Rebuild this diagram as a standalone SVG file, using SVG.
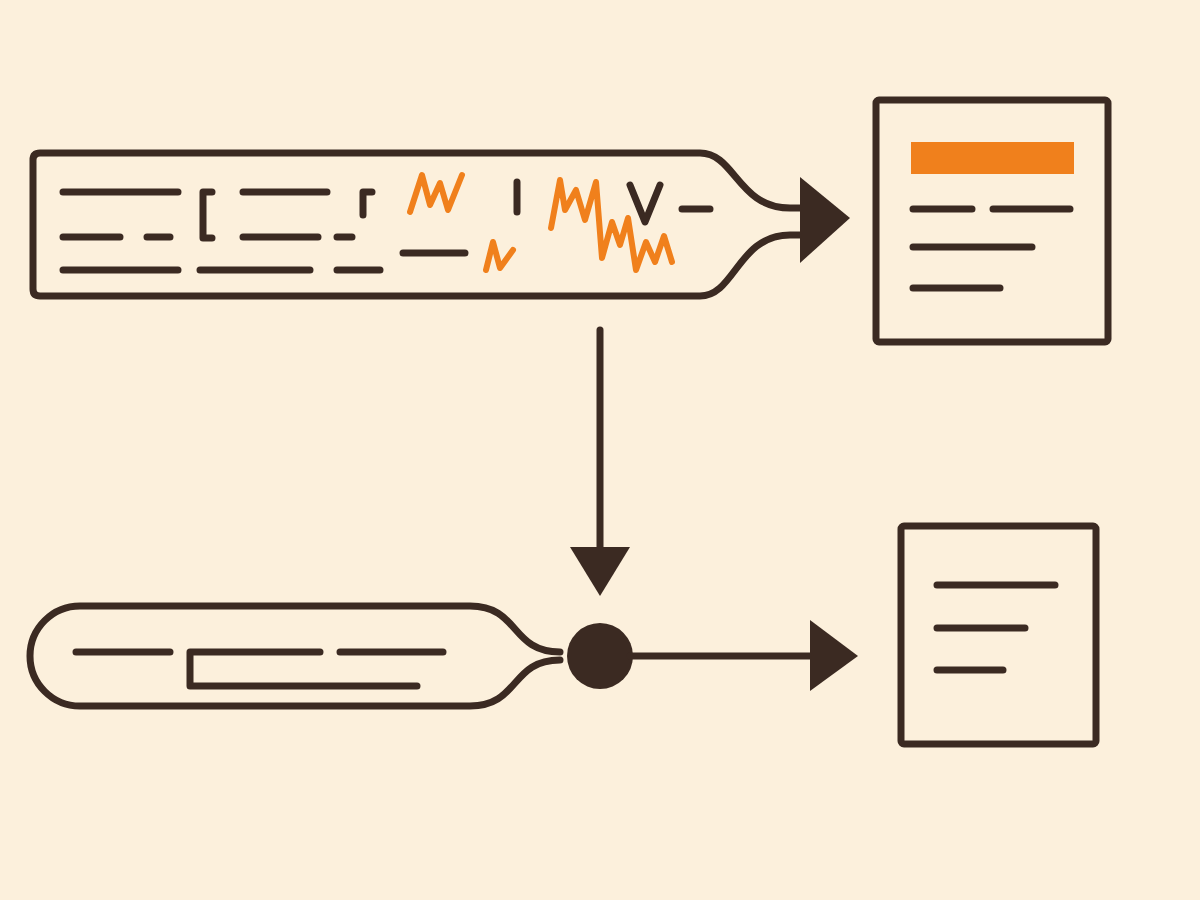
<svg xmlns="http://www.w3.org/2000/svg" width="1200" height="900" viewBox="0 0 1200 900">
<style>
.s{fill:none;stroke:#3b2a22;stroke-width:7;stroke-linecap:round;stroke-linejoin:round}
.o{fill:none;stroke:#f0801c;stroke-width:6;stroke-linecap:round;stroke-linejoin:round}
.h{fill:#3b2a22}
</style>
<rect width="1200" height="900" fill="#fcf0dc"/>
<g id="source-bar">
<path class="s" d="M800,208 H790 C738,208 735,153 700,153 H40 Q33,153 33,160 V289 Q33,296 40,296 H700 C735,296 738,235 790,235 H800"/>
<path class="s" d="M63,192 H178 M243,192 H327 M212,192 H203 V238 H212 M363,215 V192 H372 M63,237 H120 M147,237 H170 M243,237 H318 M337,237 H352 M63,270 H178 M200,270 H310 M337,270 H380 M403,253 H465 M517,182 V212 M630,185 L645,222 L660,185 M682,209 H710"/>
<path class="o" d="M410,212 L422,175 L430,205 L440,183 L448,210 L462,175 M486,270 L493,242 L500,268 L513,250 M551,228 L560,180 L565,210 L576,190 L585,220 L596,182 L602,258 L612,222 L620,245 L628,218 L636,270 L646,242 L655,262 L664,236 L672,262"/>
</g>
<g id="top-doc">
<rect class="s" x="876" y="100" width="232" height="242" rx="3"/>
<rect x="911" y="142" width="163" height="32" fill="#f0801c"/>
<path class="s" d="M913,209 H972 M993,209 H1070 M913,247 H1032 M913,288 H1000"/>
</g>
<g id="bottom-bar">
<path class="s" d="M560,652 C510,652 520,606 470,606 H80 A50,50 0 0 0 80,706 H470 C520,706 510,660 560,660"/>
<path class="s" d="M76,652 H170 M190,652 H320 M340,652 H443 M190,652 V686 H417"/>
</g>
<g id="junction"><circle class="h" cx="600" cy="656" r="33"/></g>
<g id="bottom-doc">
<rect class="s" x="901" y="526" width="195" height="218" rx="3"/>
<path class="s" d="M937,585 H1055 M937,628 H1025 M937,670 H1003"/>
</g>
<g id="connectors">
<polygon class="h" points="800,177 850,218 800,263"/>
<path class="s" d="M600,330 V550"/>
<polygon class="h" points="570,547 630,547 600,596"/>
<path class="s" d="M630,656 H815"/>
<polygon class="h" points="810,620 858,656 810,691"/>
</g>
</svg>
